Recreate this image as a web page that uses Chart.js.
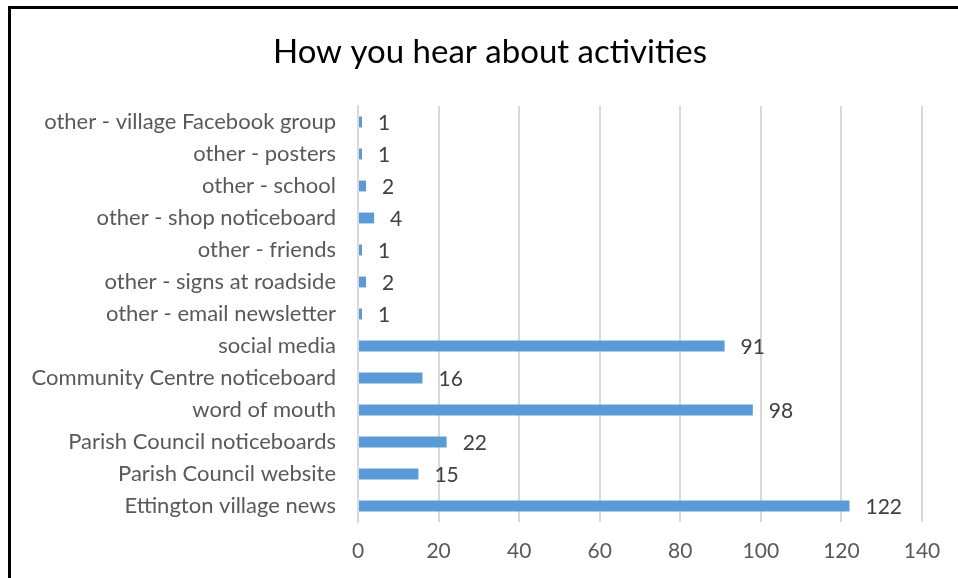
<!DOCTYPE html>
<html>
<head>
<meta charset="utf-8">
<script src="https://cdn.jsdelivr.net/npm/chart.js@4"></script>
<style>
  html, body { margin: 0; padding: 0; background: #fff; overflow: hidden; }
  #wrap { position: relative; width: 958px; height: 578px; }
  #frame { position: absolute; left: 8px; top: 6px; width: 1000px; height: 1000px;
           border: 3px solid #000; pointer-events: none; }
</style>
</head>
<body>
<div id="wrap">
  <canvas id="c" width="958" height="578"></canvas>
  <div id="frame"></div>
</div>
<script>
// Données (de haut en bas)
var categories = [
    'other - village Facebook group',
    'other - posters',
    'other - school',
    'other - shop noticeboard',
    'other - friends',
    'other - signs at roadside',
    'other - email newsletter',
    'social media',
    'Community Centre noticeboard',
    'word of mouth',
    'Parish Council noticeboards',
    'Parish Council website',
    'Ettington village news'
];
var counts = [1, 1, 2, 4, 1, 2, 1, 91, 16, 98, 22, 15, 122];
var xTicks = [0, 20, 40, 60, 80, 100, 120, 140];
var chartTitle = 'How you hear about activities';

var FONT = 'Lato, "Open Sans", sans-serif';

// Étiquettes de valeur à droite des barres
var valueLabels = {
    id: 'valueLabels',
    afterDatasetsDraw: function (chart) {
        var ctx = chart.ctx;
        var meta = chart.getDatasetMeta(0);
        ctx.save();
        ctx.font = '21px ' + FONT;
        ctx.fillStyle = '#404040';
        ctx.textAlign = 'left';
        ctx.textBaseline = 'middle';
        meta.data.forEach(function (bar, i) {
            ctx.fillText(String(counts[i]), bar.x + 16, bar.y + 1);
        });
        ctx.restore();
    }
};

// Titre centré sur le cadre d'origine (un peu à droite du centre du canvas)
var frameTitle = {
    id: 'frameTitle',
    afterDraw: function (chart) {
        var ctx = chart.ctx;
        ctx.save();
        ctx.font = '33px ' + FONT;
        ctx.fillStyle = '#000';
        ctx.textAlign = 'center';
        ctx.textBaseline = 'middle';
        ctx.fillText(chartTitle, 490, 52);
        ctx.restore();
    }
};

new Chart(document.getElementById('c'), {
    type: 'bar',
    data: {
        labels: categories,
        datasets: [{
            data: counts,
            backgroundColor: '#5B9BD5',
            categoryPercentage: 1,
            barPercentage: 0.34
        }]
    },
    options: {
        indexAxis: 'y',
        responsive: false,
        animation: false,
        layout: { padding: { left: 0, right: 36, top: 106, bottom: 15 } },
        plugins: {
            legend: { display: false },
            tooltip: { enabled: false },
            title: { display: false }
        },
        scales: {
            x: {
                min: 0,
                max: 140,
                afterBuildTicks: function (s) {
                    s.ticks = xTicks.map(function (v) { return { value: v }; });
                },
                afterFit: function (s) { s.height = 41; },
                grid: { color: '#d9d9d9', lineWidth: 2, drawTicks: false },
                border: { display: false },
                ticks: { color: '#595959', padding: 17, maxRotation: 0,
                         font: { family: FONT, size: 21, lineHeight: 1.2 } }
            },
            y: {
                afterFit: function (s) { s.width = 358; },
                grid: { display: false, drawTicks: false },
                border: { display: true, color: '#d9d9d9', width: 2 },
                ticks: { color: '#595959', padding: 22, autoSkip: false,
                         font: { family: FONT, size: 22 } }
            }
        }
    },
    plugins: [valueLabels, frameTitle]
});
</script>
</body>
</html>
